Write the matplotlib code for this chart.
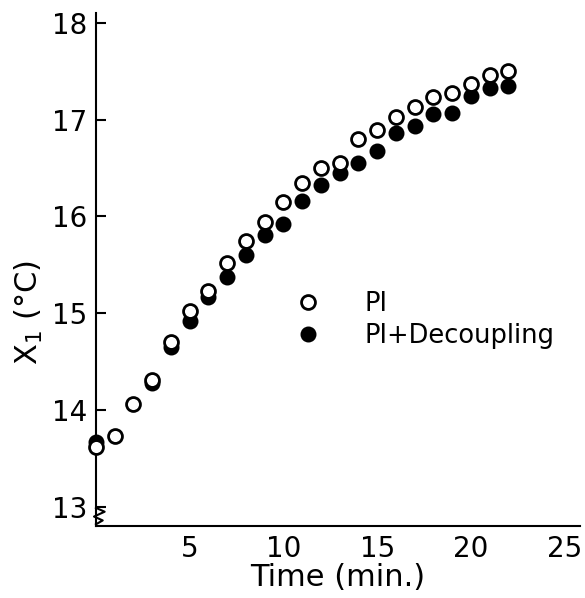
import matplotlib.pyplot as plt

# Time (min.) and X1 (deg C)
time_pi = [0, 1, 2, 3, 4, 5, 6, 7, 8, 9, 10, 11, 12, 13, 14, 15, 16, 17, 18, 19, 20, 21, 22]
x1_pi = [13.62, 13.73, 14.06, 14.31, 14.70, 15.02, 15.23, 15.52, 15.75, 15.94, 16.15, 16.35,
         16.50, 16.55, 16.80, 16.89, 17.03, 17.13, 17.23, 17.28, 17.37, 17.46, 17.50]

time_dec = [0, 3, 4, 5, 6, 7, 8, 9, 10, 11, 12, 13, 14, 15, 16, 17, 18, 19, 20, 21, 22]
x1_dec = [13.67, 14.28, 14.65, 14.92, 15.17, 15.37, 15.60, 15.81, 15.92, 16.16, 16.33, 16.45,
          16.55, 16.68, 16.86, 16.93, 17.06, 17.07, 17.24, 17.33, 17.35]

x_ticks = [5, 10, 15, 20, 25]
y_ticks = [13, 14, 15, 16, 17, 18]

plt.rcParams['font.family'] = 'DejaVu Sans'

fig = plt.figure(figsize=(5.85, 5.98), dpi=100)
ax = fig.add_axes([0.164, 0.120, 0.827, 0.858])

ax.plot(time_dec, x1_dec, 'o', ms=10, mfc='black', mec='black', mew=1.5,
        label='PI+Decoupling', zorder=3, clip_on=False)
ax.plot(time_pi, x1_pi, 'o', ms=10, mfc='white', mec='black', mew=2,
        label='PI', zorder=4, clip_on=False)

ax.set_xlim(0, 25.8)
ax.set_ylim(12.80, 18.10)
ax.set_xticks(x_ticks)
ax.set_yticks(y_ticks)
ax.tick_params(axis='x', length=0, labelsize=20, pad=6)
ax.tick_params(axis='y', direction='in', length=7, width=1.5, labelsize=20, pad=6)

for side in ['top', 'right']:
    ax.spines[side].set_visible(False)
for side in ['left', 'bottom']:
    ax.spines[side].set_linewidth(1.5)

# axis break mark near 13
brk = ax.get_yaxis_transform()
ax.plot([0.0, 0.018, -0.004, 0.014, 0.0], [12.99, 12.95, 12.90, 12.86, 12.82],
        color='black', lw=1.5, transform=brk, clip_on=False)

ax.set_xlabel('Time (min.)', fontsize=22, labelpad=0)
ax.set_ylabel('X$_1$ (°C)', fontsize=22)
ax.yaxis.set_label_coords(-0.105, 0.417)

handles, labels = ax.get_legend_handles_labels()
ax.legend(handles[::-1], labels[::-1], loc='upper left', bbox_to_anchor=(0.411, 0.459),
          frameon=False, fontsize=18.5, handlelength=1, handletextpad=1.7,
          labelspacing=0.25, borderpad=0, borderaxespad=0)

plt.savefig('out.png', dpi=100)
